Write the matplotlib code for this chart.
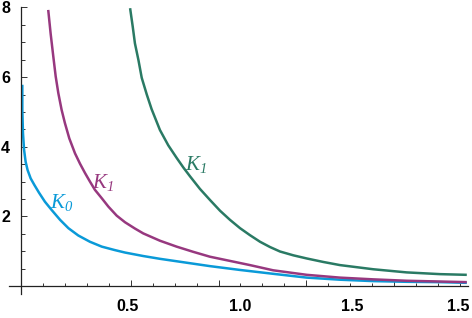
import numpy as np
import matplotlib.pyplot as plt

plt.rcParams['mathtext.fontset'] = 'custom'
plt.rcParams['mathtext.rm'] = 'Liberation Serif:italic'
plt.rcParams['mathtext.it'] = 'Liberation Serif:italic'

# curves
k0_x = [0.006, 0.006, 0.009, 0.014, 0.021, 0.030, 0.044, 0.061, 0.082, 0.109,
        0.140, 0.178, 0.216, 0.261, 0.314, 0.368, 0.428, 0.474, 0.557, 0.633,
        0.709, 0.861, 0.998, 1.148, 1.302, 1.453, 1.604, 1.757, 1.909, 2.031]
k0_y = [5.78, 5.06, 4.39, 3.91, 3.57, 3.33, 3.09, 2.90, 2.68, 2.42,
        2.18, 1.90, 1.66, 1.45, 1.27, 1.13, 1.03, 0.96, 0.86, 0.78,
        0.71, 0.57, 0.46, 0.35, 0.24, 0.18, 0.14, 0.12, 0.11, 0.09]

k1_x = [0.124, 0.135, 0.147, 0.158, 0.170, 0.185, 0.200, 0.220, 0.246,
        0.269, 0.292, 0.314, 0.337, 0.368, 0.398, 0.436, 0.474, 0.519, 0.557,
        0.633, 0.709, 0.785, 0.861, 0.952, 1.043, 1.149, 1.302, 1.453, 1.605,
        1.757, 2.031]
k1_y = [7.93, 7.25, 6.60, 6.02, 5.54, 5.06, 4.68, 4.24, 3.81,
        3.51, 3.24, 3.00, 2.76, 2.52, 2.28, 2.02, 1.83, 1.65, 1.51,
        1.30, 1.13, 0.98, 0.84, 0.72, 0.60, 0.45, 0.32, 0.24, 0.19,
        0.15, 0.11]

k1b_x = [0.497, 0.509, 0.519, 0.535, 0.550, 0.573, 0.595, 0.633, 0.671, 0.709,
         0.740, 0.770, 0.815, 0.861, 0.907, 0.952, 0.998, 1.043, 1.089, 1.134,
         1.180, 1.241, 1.302, 1.377, 1.453, 1.605, 1.757, 1.909, 2.031]
k1b_y = [7.98, 7.45, 6.97, 6.49, 5.98, 5.50, 5.08, 4.48, 4.04, 3.68,
         3.40, 3.15, 2.79, 2.47, 2.16, 1.90, 1.66, 1.46, 1.27, 1.12,
         0.99, 0.88, 0.79, 0.69, 0.60, 0.48, 0.39, 0.34, 0.32]

curve_labels = [r'$K_0$', r'$K_1$', r'$K_1$']
colors = ['#0a9ad8', '#97387f', '#2a7a64']

y_major = [2, 4, 6, 8]
y_minor = np.arange(0.5, 8.0, 0.5)
x_major = [0.5, 0.9, 1.3, 1.7]
x_minor = np.arange(0.1, 2.01, 0.1)
xlabel_pos = [0.487, 0.998, 1.508, 1.991]
xlabel_text = ['0.5', '1.0', '1.5', '1.5']

fig = plt.figure(figsize=(4.72, 3.18), dpi=100)
ax = fig.add_axes([0, 0, 1, 1])

ax.plot(k0_x, k0_y, color=colors[0], lw=1.8, solid_capstyle='butt', solid_joinstyle='round')
ax.plot(k1_x, k1_y, color=colors[1], lw=1.8, solid_capstyle='butt', solid_joinstyle='round')
ax.plot(k1b_x, k1b_y, color=colors[2], lw=1.8, solid_capstyle='butt', solid_joinstyle='round')

ax.text(0.187, 2.39, curve_labels[0], color=colors[0], fontsize=15, ha='center', va='center')
ax.text(0.374, 2.96, curve_labels[1], color=colors[1], fontsize=15, ha='center', va='center')
ax.text(0.797, 3.48, curve_labels[2], color=colors[2], fontsize=15, ha='center', va='center')

ax.set_xlim(-0.0957, 2.0547)
ax.set_ylim(-0.92, 8.215)

for s in ['top', 'right']:
    ax.spines[s].set_visible(False)
ax.spines['left'].set_position(('data', 0))
ax.spines['bottom'].set_position(('data', 0))
ax.spines['left'].set_bounds(-0.23, 8)
ax.spines['bottom'].set_bounds(-0.053, 2.035)
for s in ['left', 'bottom']:
    ax.spines[s].set_color('#222222')
    ax.spines[s].set_linewidth(0.9)

ax.set_xticks(x_major)
ax.set_xticks(x_minor, minor=True)
ax.set_xticklabels([])
ax.set_yticks(y_major)
ax.set_yticks(y_minor, minor=True)
ax.set_yticklabels([str(v) for v in y_major], fontsize=11.5, fontweight='bold',
                   family='Liberation Sans')

ax.tick_params(axis='x', which='major', direction='in', length=4.5, width=0.7, color='#333333')
ax.tick_params(axis='x', which='minor', direction='in', length=2.3, width=0.7, color='#333333')
ax.tick_params(axis='y', which='major', direction='in', length=4.5, width=0.7, color='#333333', pad=8)
ax.tick_params(axis='y', which='minor', direction='in', length=3, width=0.7, color='#333333')

for xp, t in zip(xlabel_pos, xlabel_text):
    ax.text(xp, -0.6, t, fontsize=11.5, fontweight='bold', family='Liberation Sans',
            ha='center', va='center')

fig.savefig('out.png', dpi=100)
